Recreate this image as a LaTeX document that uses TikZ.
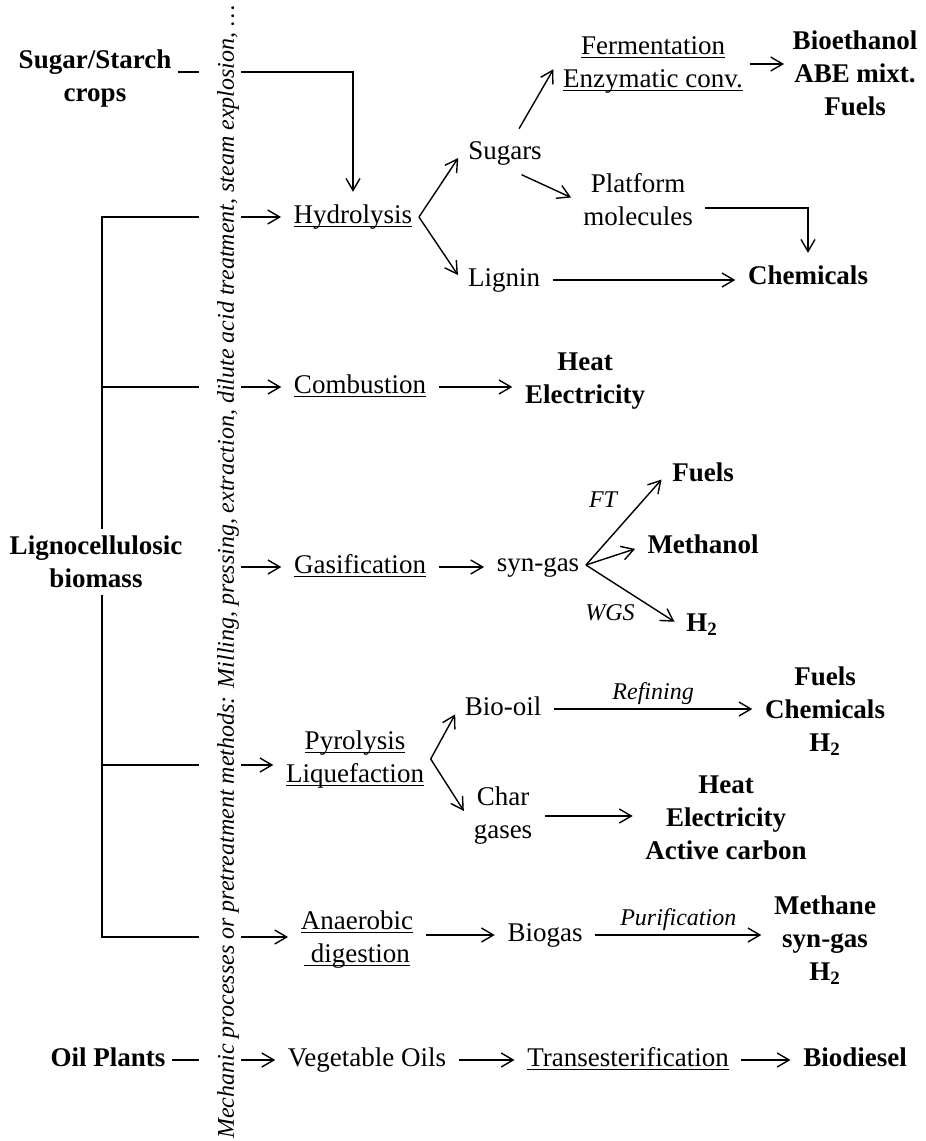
\documentclass[tikz,border=0pt]{standalone}
\usepackage{fontspec}
\setmainfont{Liberation Serif}
\usetikzlibrary{arrows.meta}
\newcommand{\procname}[1]{\underline{\raisebox{0pt}[\height][0pt]{#1}}}

\begin{document}
\begin{tikzpicture}
[x=0.5pt, y=-0.5pt, line width=0.7pt,
 every node/.style={font=\fontsize{13.5}{16.5}\selectfont, align=center, inner sep=3pt},
 word/.style={text height=9.5pt, text depth=3pt},
 prod/.style={font=\fontsize{13.5}{16.5}\selectfont\bfseries},
 lbl/.style={font=\fontsize{12}{14}\selectfont\itshape, inner sep=2pt},
 arr/.style={-{Straight Barb[length=6pt,width=7pt]}, shorten >=3pt},
 link/.style={arr, shorten <=3pt}]
\useasboundingbox (0,0) rectangle (926,1141);
\node (pre) at (228,572) [rotate=90, font=\fontsize{12}{14}\selectfont\itshape]
      {Mechanic processes or pretreatment methods: Milling, pressing, extraction, dilute acid treatment, steam explosion, …};
\coordinate (gl) at (199,0);
\coordinate (gr) at (241,0);
\coordinate (sg) at (199,72);
\coordinate (bt) at (102,217);
\coordinate (bp) at (102,765);
\coordinate (bb) at (102,937);

\node (sugar) at (95,79) [prod] {Sugar/Starch\\crops};
\node (ligno) at (96,562) [prod] {Lignocellulosic\\biomass};
\node (oil) at (108,1060) [prod, word] {Oil Plants};

\node (hyd) at (353,217) [word] {\procname{Hydrolysis}};
\node (comb) at (360,387) [word] {\procname{Combustion}};
\node (gas) at (360,567) [word] {\procname{Gasification}};
\node (pyr) at (355,759) {\procname{Pyrolysis}\\\procname{Liquefaction}};
\node (anae) at (357,939) {\procname{Anaerobic}\\\procname{\ digestion}};
\node (vego) at (367,1060) [word] {Vegetable Oils};

\node (sugars) at (505,153) [word] {Sugars};
\node (lignin) at (504,280) [word] {Lignin};
\node (ferm) at (653,64) {\procname{Fermentation}\\\procname{Enzymatic conv.}};
\node (bioeth) at (855,73) [prod] {Bioethanol\\ABE mixt.\\Fuels};
\node (plat) at (638,200) {Platform\\molecules};
\node (chem) at (808,278) [prod, word] {Chemicals};
\node (heat) at (585,381) [prod] {Heat\\Electricity};
\node (syngas) at (538,565) [word] {syn-gas};
\node (fuels) at (703,475) [prod, word] {Fuels};
\node (methanol) at (703,547) [prod, word] {Methanol};
\node (htwo) at (702,625) [prod, word] {H\textsubscript{2}};
\node (ft) at (603,500) [lbl] {FT};
\node (wgs) at (610,613) [lbl] {WGS};
\node (biooil) at (503,709) [word] {Bio-oil};
\node (fch) at (825,711) [prod] {Fuels\\Chemicals\\H\textsubscript{2}};
\node (char) at (503,816) {Char\\gases};
\node (hec) at (726,818) [prod] {Heat\\Electricity\\Active carbon};
\node (biogas) at (545,935) [word] {Biogas};
\node (meth) at (825,940) [prod] {Methane\\syn-gas\\H\textsubscript{2}};
\node (trans) at (628,1060) [word] {\procname{Transesterification}};
\node (biod) at (855,1060) [prod, word] {Biodiesel};

\draw (sugar.east |- sg) -- (sg);
\draw [arr] (sg -| gr) -| (hyd.north);
\draw (ligno.north -| bt) -- (bt) -- (bt -| gl);
\draw (ligno.south -| bt) -- (bb) -- (bb -| gl);
\draw (comb -| bt) -- (comb -| gl);
\draw (bp) -- (bp -| gl);
\draw (oil.east) -- (oil -| gl);

\draw [arr] (bt -| gr) -- (hyd.west);
\draw [arr] (comb -| gr) -- (comb.west);
\draw [arr] (gas -| gr) -- (gas.west);
\draw [arr] (bp -| gr) -- (bp -| pyr.west);
\draw [arr] (bb -| gr) -- (bb -| anae.west);
\draw [arr] (oil -| gr) -- (vego.west);

\draw [arr] (hyd.east) -- (sugars.west);
\draw [arr] (hyd.east) -- (lignin.west);
\draw [link] (sugars.60) -- (ferm.west);
\draw [link] (sugars.-60) -- (plat.west);
\draw [arr, shorten >=1pt] (ferm.east) -- (ferm.east -| bioeth.west);
\draw [link] ([yshift=-4pt]plat.east) -| (chem.north);
\draw [link] (lignin.east) -- (lignin.east -| chem.west);
\draw [link] (comb.east) -- (comb.east -| heat.west);
\draw [link] (gas.east) -- (gas.east -| syngas.west);
\draw [arr] (syngas.east) -- (fuels.west);
\draw [arr] (syngas.east) -- (methanol.west);
\draw [arr] (syngas.east) -- (htwo.west);
\draw [arr] (pyr.east) -- (biooil.west);
\draw [arr] (pyr.east) -- (char.west);
\draw [link] (biooil.east) -- node [above, lbl] {Refining} (biooil.east -| fch.west);
\draw [link] (char.east) -- (char.east -| hec.west);
\draw [link] (anae.east |- biogas) -- (biogas.west);
\draw [link] (biogas.east) -- node [above, lbl] {Purification} (biogas.east -| meth.west);
\draw [link] (vego.east) -- (trans.west);
\draw [link] (trans.east) -- (biod.west);
\end{tikzpicture}
\end{document}
